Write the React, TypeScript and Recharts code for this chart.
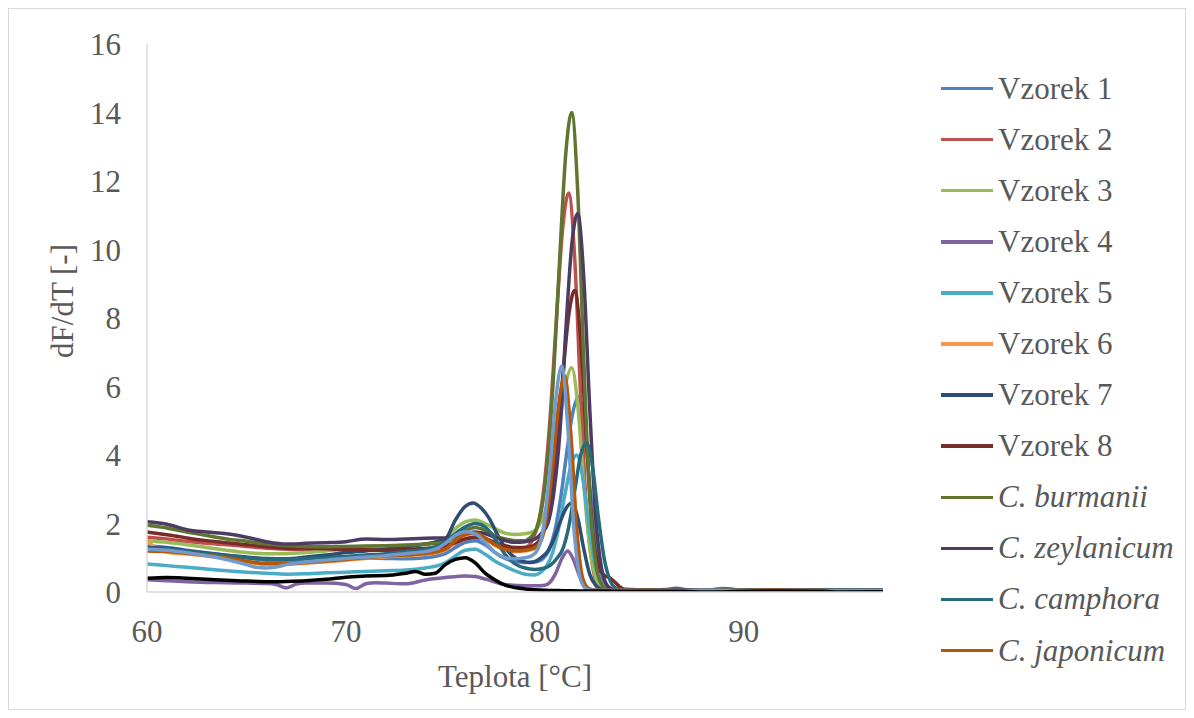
import React from "react";
import { Label, Line, LineChart, XAxis, YAxis } from "recharts";

// dF/dT melt curves as [teplota °C, dF/dT]
const TEMP_TICKS = [60, 70, 80, 90];
const DFDT_TICKS = [0, 2, 4, 6, 8, 10, 12, 14, 16];

const VZOREK_1 = [
  [60, 1.34], [61, 1.3], [62, 1.22], [63, 1.15], [64, 1.07], [65, 1.0], [66, 0.93], [67, 0.9],
  [68, 0.92], [69, 0.95], [70, 0.98], [71, 0.99], [72, 0.98], [73, 0.97], [74, 1.0], [75, 1.12],
  [75.5, 1.3], [76, 1.45], [76.5, 1.5], [77, 1.38], [77.5, 1.15], [78, 0.98], [78.5, 0.9], [79, 0.86],
  [79.6, 0.88], [79.9, 0.97], [80.2, 1.22], [80.5, 1.78], [80.8, 2.76], [81.1, 4.06], [81.4, 5.22],
  [81.7, 5.7], [82, 4.78], [82.3, 2.85], [82.6, 1.21], [82.9, 0.39], [83.2, 0.12], [83.5, 0.06],
  [84, 0.05], [86, 0.06], [88, 0.04], [90, 0.05], [92, 0.04], [94, 0.05], [97, 0.04],
];
const VZOREK_2 = [
  [60, 1.6], [61, 1.55], [62, 1.48], [63, 1.42], [64, 1.38], [65, 1.33], [66, 1.28], [67, 1.25],
  [68, 1.24], [69, 1.25], [70, 1.27], [71, 1.28], [72, 1.27], [73, 1.25], [74, 1.27], [75, 1.32],
  [75.5, 1.42], [76, 1.55], [76.5, 1.6], [77, 1.55], [77.5, 1.42], [78, 1.32], [78.5, 1.28], [79, 1.3],
  [79.4, 1.55], [79.7, 2.09], [80, 3.29], [80.3, 5.38], [80.6, 8.15], [80.9, 10.64], [81.2, 11.65],
  [81.5, 9.76], [81.8, 5.73], [82.1, 2.36], [82.4, 0.74], [82.7, 0.19], [83, 0.07],
  [84, 0.05], [85, 0.05], [87, 0.04], [89, 0.05], [91, 0.04], [94, 0.04], [97, 0.04],
];
const VZOREK_3 = [
  [60, 1.5], [61, 1.45], [62, 1.38], [63, 1.3], [64, 1.22], [65, 1.15], [66, 1.12], [67, 1.12],
  [68, 1.15], [69, 1.2], [70, 1.25], [71, 1.28], [72, 1.3], [73, 1.35], [74, 1.4], [75, 1.55],
  [75.5, 1.85], [76, 2.05], [76.5, 2.1], [77, 2.0], [77.5, 1.85], [78, 1.72], [78.5, 1.68], [79, 1.7],
  [79.25, 1.73], [79.55, 1.82], [79.85, 2.1], [80.15, 2.63], [80.45, 3.61], [80.75, 4.91], [81.05, 6.07],
  [81.35, 6.55], [81.65, 5.49], [81.95, 3.22], [82.25, 1.33], [82.55, 0.44], [82.85, 0.13], [83.15, 0.06],
  [84, 0.05], [86, 0.05], [88, 0.06], [90, 0.04], [92, 0.05], [94, 0.04], [97, 0.04],
];
const VZOREK_4 = [
  [60, 0.36], [61, 0.33], [62, 0.3], [63, 0.28], [64, 0.27], [65, 0.26], [66, 0.25], [66.5, 0.22],
  [67, 0.12], [67.5, 0.23], [68, 0.26], [69, 0.26], [70, 0.22], [70.5, 0.1], [71, 0.24], [71.5, 0.27],
  [72, 0.26], [73, 0.24], [74, 0.35], [75, 0.42], [76, 0.47], [76.5, 0.45], [77, 0.38], [78, 0.22],
  [79, 0.18], [79.5, 0.18], [80, 0.2], [80.25, 0.28], [80.55, 0.55], [80.85, 0.97], [81.15, 1.2],
  [81.45, 0.93], [81.75, 0.45], [82.05, 0.15], [82.45, 0.06], [84, 0.05], [86, 0.06], [86.6, 0.11],
  [87.3, 0.05], [89, 0.04], [91, 0.05], [94, 0.04], [97, 0.05],
];
const VZOREK_5 = [
  [60, 0.82], [61, 0.77], [62, 0.72], [63, 0.67], [64, 0.62], [65, 0.58], [66, 0.55], [67, 0.52],
  [68, 0.53], [69, 0.56], [70, 0.58], [71, 0.6], [72, 0.62], [73, 0.64], [74, 0.7], [75, 0.85],
  [75.5, 1.05], [76, 1.22], [76.5, 1.25], [77, 1.1], [77.5, 0.9], [78, 0.75], [78.5, 0.62], [79, 0.52],
  [79.5, 0.5], [79.8, 0.58], [80.1, 0.77], [80.4, 1.17], [80.7, 1.88], [81, 2.82], [81.3, 3.66],
  [81.6, 4.0], [81.9, 3.35], [82.2, 2.0], [82.5, 0.86], [82.8, 0.29], [83.1, 0.1], [83.4, 0.05],
  [85, 0.05], [87, 0.04], [89, 0.05], [92, 0.04], [94, 0.05], [97, 0.04],
];
const VZOREK_6 = [
  [60, 1.5], [60.4, 1.3], [61, 1.16], [62, 1.11], [63, 1.05], [64, 0.98], [65, 0.88], [66, 0.81],
  [67, 0.81], [68, 0.84], [69, 0.88], [70, 0.93], [71, 0.98], [72, 1.03], [73, 1.06], [74, 1.1],
  [75, 1.23], [75.5, 1.48], [76, 1.66], [76.5, 1.7], [77, 1.56], [77.5, 1.36], [78, 1.23], [78.5, 1.18],
  [79, 1.2], [79.5, 1.27], [79.8, 1.47], [80.1, 2.2], [80.4, 3.65], [80.7, 5.4], [81, 6.2],
  [81.3, 4.58], [81.6, 1.82], [81.9, 0.39], [82.2, 0.1], [82.5, 0.05], [85, 0.04],
  [88, 0.04], [91, 0.04], [94, 0.04], [97, 0.04],
];
const VZOREK_7 = [
  [60, 1.3], [61, 1.28], [62, 1.2], [63, 1.13], [64, 1.07], [65, 1.02], [66, 0.98], [67, 0.97],
  [68, 1.02], [69, 1.08], [70, 1.15], [71, 1.2], [72, 1.25], [73, 1.32], [74, 1.4], [75, 1.55],
  [75.5, 2.1], [76, 2.5], [76.4, 2.6], [76.8, 2.45], [77.2, 2.15], [77.6, 1.7], [78, 1.3], [78.5, 1.0],
  [79, 0.88], [79.25, 0.86], [79.55, 0.9], [79.85, 1.02], [80.15, 1.19], [80.45, 1.54], [80.75, 2.01],
  [81.05, 2.43], [81.35, 2.6], [81.65, 2.18], [81.95, 1.28], [82.25, 0.53], [82.55, 0.2], [82.85, 0.08],
  [84, 0.05], [86, 0.04], [88, 0.05], [90, 0.04], [93, 0.05], [97, 0.04],
];
const VZOREK_8 = [
  [60, 1.75], [61, 1.67], [62, 1.58], [63, 1.5], [64, 1.44], [65, 1.38], [66, 1.32], [67, 1.28],
  [68, 1.27], [69, 1.26], [70, 1.24], [71, 1.23], [72, 1.22], [73, 1.24], [74, 1.27], [75, 1.35],
  [75.5, 1.45], [76, 1.55], [76.5, 1.6], [77, 1.55], [77.5, 1.45], [78, 1.35], [78.5, 1.3], [79, 1.3],
  [79.4, 1.35], [79.7, 1.48], [80, 1.87], [80.3, 2.74], [80.6, 4.26], [80.9, 6.27], [81.2, 8.07],
  [81.5, 8.8], [81.8, 7.37], [82.1, 4.33], [82.4, 1.79], [82.7, 0.75], [83, 0.48], [83.25, 0.42],
  [83.5, 0.3], [83.75, 0.16], [84, 0.08], [86, 0.05], [88, 0.05], [90, 0.04], [92, 0.05], [94, 0.04],
  [97, 0.04],
];
const C_BURMANII = [
  [60, 1.95], [61, 1.87], [62, 1.75], [63, 1.65], [64, 1.55], [65, 1.48], [66, 1.4], [67, 1.36],
  [68, 1.33], [69, 1.32], [70, 1.33], [71, 1.34], [72, 1.35], [73, 1.37], [74, 1.4], [75, 1.45],
  [75.5, 1.6], [76, 1.8], [76.5, 1.88], [77, 1.8], [77.5, 1.65], [78, 1.55], [78.5, 1.5], [79, 1.5],
  [79.25, 1.58], [79.55, 1.8], [79.85, 2.45], [80.15, 3.9], [80.45, 6.43], [80.75, 9.78], [81.05, 12.78],
  [81.35, 14.0], [81.65, 11.73], [81.95, 6.89], [82.25, 2.84], [82.55, 0.88], [82.85, 0.22], [83.15, 0.07],
  [84, 0.05], [86, 0.05], [88, 0.05], [89, 0.1], [90, 0.05], [92, 0.04], [94, 0.05], [97, 0.04],
];
const C_ZEYLANICUM = [
  [60, 2.05], [61, 1.98], [62, 1.82], [63, 1.75], [64, 1.7], [65, 1.6], [66, 1.47], [67, 1.4],
  [68, 1.42], [69, 1.44], [70, 1.47], [71, 1.55], [72, 1.53], [73, 1.55], [74, 1.57], [75, 1.58],
  [76, 1.7], [76.5, 1.75], [77, 1.7], [77.5, 1.6], [78, 1.5], [78.5, 1.45], [79, 1.47],
  [79.55, 1.56], [79.85, 1.73], [80.15, 2.0], [80.45, 2.9], [80.75, 4.6], [81.05, 7.6], [81.35, 10.11],
  [81.65, 11.05], [81.95, 9.26], [82.25, 5.44], [82.55, 2.24], [82.85, 0.7], [83.15, 0.18], [83.45, 0.07],
  [85, 0.05], [86.5, 0.08], [88, 0.04], [90, 0.05], [93, 0.04], [97, 0.05],
];
const C_CAMPHORA = [
  [60, 1.28], [61, 1.25], [62, 1.18], [63, 1.12], [64, 1.06], [65, 1.0], [66, 0.96], [67, 0.96],
  [68, 0.98], [69, 1.0], [70, 1.04], [71, 1.08], [72, 1.12], [73, 1.18], [74, 1.25], [75, 1.45],
  [75.5, 1.7], [76, 1.9], [76.5, 2.0], [77, 1.9], [77.5, 1.55], [78, 1.1], [78.5, 0.82], [79, 0.7],
  [79.5, 0.66], [80, 0.7], [80.3, 0.79], [80.6, 0.98], [80.9, 1.25], [81.2, 1.9], [81.5, 2.95],
  [81.8, 3.99], [82.1, 4.35], [82.4, 3.65], [82.7, 2.14], [83, 0.93], [83.3, 0.31], [83.6, 0.1],
  [83.9, 0.06], [86, 0.05], [88, 0.04], [90, 0.05], [93, 0.04], [97, 0.05],
];
const C_JAPONICUM = [
  [60, 1.2], [61, 1.18], [62, 1.13], [63, 1.07], [64, 1.0], [65, 0.9], [66, 0.83], [67, 0.83],
  [68, 0.86], [69, 0.9], [70, 0.95], [71, 1.0], [72, 1.05], [73, 1.08], [74, 1.12], [75, 1.25],
  [75.5, 1.5], [76, 1.68], [76.5, 1.72], [77, 1.58], [77.5, 1.38], [78, 1.25], [78.5, 1.2], [79, 1.22],
  [79.5, 1.3], [79.8, 1.5], [80.1, 2.24], [80.4, 3.71], [80.7, 5.47], [81, 6.3],
  [81.3, 4.64], [81.6, 1.86], [81.9, 0.4], [82.2, 0.1], [82.5, 0.05], [85, 0.05], [88, 0.04],
  [91, 0.05], [94, 0.04], [97, 0.04],
];
const SERIE_13 = [
  [60, 1.25], [61, 1.22], [62, 1.15], [63, 1.06], [64, 0.95], [65, 0.8], [65.5, 0.72], [66, 0.7],
  [66.5, 0.73], [67, 0.8], [68, 0.88], [69, 0.93], [70, 0.98], [71, 1.02], [72, 1.06], [73, 1.12],
  [74, 1.18], [74.5, 1.25], [75, 1.42], [75.5, 1.65], [76, 1.76], [76.5, 1.7], [77, 1.45], [77.5, 1.15],
  [78, 1.0], [78.5, 0.97], [79, 1.0], [79.35, 1.06], [79.65, 1.25], [79.95, 1.96],
  [80.25, 3.56], [80.55, 5.61], [80.85, 6.6], [81.15, 4.86], [81.45, 1.95], [81.75, 0.47], [82.05, 0.1],
  [82.35, 0.05], [85, 0.04], [88, 0.05], [91, 0.04], [94, 0.04], [97, 0.04],
];
const SERIE_14 = [
  [60, 0.4], [61, 0.42], [62, 0.4], [63, 0.37], [64, 0.34], [65, 0.32], [66, 0.3], [67, 0.31],
  [68, 0.33], [69, 0.37], [70, 0.43], [71, 0.47], [72, 0.48], [73, 0.55], [73.5, 0.6], [74, 0.52],
  [74.5, 0.55], [75, 0.8], [75.5, 0.95], [76, 1.0], [76.5, 0.85], [77, 0.55], [77.5, 0.35], [78, 0.2],
  [78.5, 0.13], [79, 0.09], [80, 0.05], [81, 0.04], [82, 0.03], [83, 0.03], [85, 0.02], [87, 0.02],
  [88, 0.0], [90, 0.02], [92, 0.03], [94, 0.02], [95, 0.0], [97, 0.01],
];

const SERIES = [
  { name: "Vzorek 1", color: "#4F81BD", points: VZOREK_1 },
  { name: "Vzorek 2", color: "#C0504D", points: VZOREK_2 },
  { name: "Vzorek 3", color: "#9BBB59", points: VZOREK_3 },
  { name: "Vzorek 4", color: "#8064A2", points: VZOREK_4 },
  { name: "Vzorek 5", color: "#4BACC6", points: VZOREK_5 },
  { name: "Vzorek 6", color: "#F79646", points: VZOREK_6 },
  { name: "Vzorek 7", color: "#2C4D75", points: VZOREK_7 },
  { name: "Vzorek 8", color: "#772C2A", points: VZOREK_8 },
  { name: "C. burmanii", color: "#5F7530", points: C_BURMANII, italic: true },
  { name: "C. zeylanicum", color: "#4D3B62", points: C_ZEYLANICUM, italic: true },
  { name: "C. camphora", color: "#276A7C", points: C_CAMPHORA, italic: true },
  { name: "C. japonicum", color: "#B65708", points: C_JAPONICUM, italic: true },
  { name: "Serie 13", color: "#729ACA", points: SERIE_13, hidden: true },
  { name: "Serie 14", color: "#000000", points: SERIE_14, hidden: true },
];

const FONT = '"Liberation Serif", serif';
const INK = "#595959";
const AXIS = "#d9d9d9";

const tickStyle = { fontFamily: FONT, fontSize: 31, fill: INK };

const toRows = (pts: number[][]) => pts.map(([t, v]) => ({ t, v }));

function YTitle({ viewBox }: any) {
  const x = viewBox.x + 53;
  const y = viewBox.y + viewBox.height / 2 - 17;
  return (
    <text x={x} y={y} transform={`rotate(-90 ${x} ${y})`} textAnchor="middle"
      dominantBaseline="central" fontFamily={FONT} fontSize={31} fill={INK}>
      dF/dT [-]
    </text>
  );
}

function XTitle({ viewBox }: any) {
  return (
    <text x={viewBox.x + viewBox.width / 2} y={viewBox.y + 84} textAnchor="middle"
      dominantBaseline="central" fontFamily={FONT} fontSize={31} fill={INK}>
      Teplota [°C]
    </text>
  );
}

export default function App() {
  return (
    <div style={{ position: "relative", width: 1176, height: 700, border: `1px solid ${AXIS}`, background: "#fff" }}>
      <LineChart width={1176} height={700} margin={{ top: 35, right: 302, bottom: 0, left: 0 }}>
        <XAxis
          dataKey="t"
          type="number"
          domain={[60, 97]}
          ticks={TEMP_TICKS}
          allowDataOverflow
          stroke={AXIS}
          strokeWidth={1.5}
          tickLine={false}
          tickSize={0}
          tickMargin={28}
          tick={tickStyle}
          height={117}
        >
          <Label content={XTitle} />
        </XAxis>
        <YAxis
          type="number"
          domain={[0, 16]}
          ticks={DFDT_TICKS}
          allowDataOverflow
          stroke={AXIS}
          strokeWidth={1.5}
          tickLine={false}
          tickSize={0}
          tickMargin={26}
          tick={tickStyle}
          width={138}
        >
          <Label content={YTitle} />
        </YAxis>
        {SERIES.map((s) => (
          <Line
            key={s.name}
            data={toRows(s.points)}
            dataKey="v"
            type="monotone"
            stroke={s.color}
            strokeWidth={3.5}
            dot={false}
            activeDot={false}
            isAnimationActive={false}
          />
        ))}
      </LineChart>
      <ul style={{ position: "absolute", left: 932, top: 54, margin: 0, padding: 0, listStyle: "none", fontFamily: FONT, fontSize: 31, color: INK }}>
        {SERIES.filter((s) => !s.hidden).map((s) => (
          <li key={s.name} style={{ display: "flex", alignItems: "center", height: 51.1, whiteSpace: "nowrap" }}>
            <span style={{ display: "inline-block", width: 52, height: 3.5, background: s.color, marginRight: 5 }} />
            <span style={{ fontStyle: s.italic ? "italic" : "normal" }}>{s.name}</span>
          </li>
        ))}
      </ul>
    </div>
  );
}
